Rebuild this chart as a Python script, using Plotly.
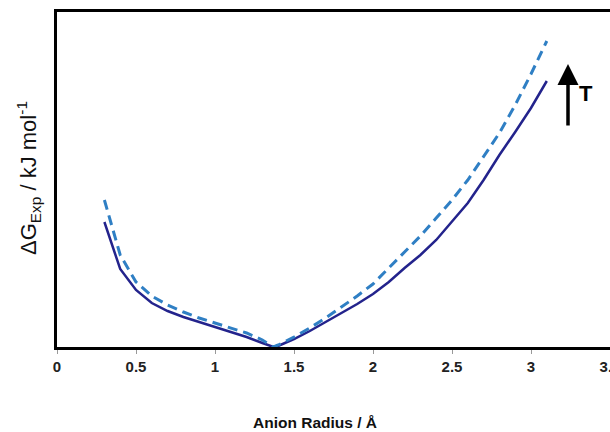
import plotly.graph_objects as go

# Anion radius (Å)
radius = [0.3, 0.4, 0.5, 0.6, 0.7, 0.8, 0.9, 1.0, 1.1, 1.2, 1.3, 1.37, 1.4, 1.5, 1.6,
          1.7, 1.8, 1.9, 2.0, 2.1, 2.2, 2.3, 2.4, 2.5, 2.6, 2.7, 2.8, 2.9, 3.0, 3.1]
# ΔG (arbitrary units) - lower temperature (solid)
dg_low = [12.5, 7.8, 5.7, 4.4, 3.6, 3.0, 2.5, 2.0, 1.5, 1.0, 0.4, 0.0, 0.1, 0.8, 1.6,
          2.5, 3.4, 4.3, 5.3, 6.5, 7.9, 9.2, 10.7, 12.5, 14.4, 16.7, 19.2, 21.5, 23.9, 26.6]
# ΔG (arbitrary units) - higher temperature (dashed)
dg_high = [14.7, 9.2, 6.5, 5.1, 4.2, 3.5, 2.9, 2.4, 1.9, 1.4, 0.7, 0.0, 0.2, 1.0, 1.9,
           2.9, 4.0, 5.1, 6.3, 7.9, 9.5, 11.1, 12.9, 14.7, 16.7, 19.0, 21.4, 24.2, 27.3, 30.6]
x_ticks = [0, 0.5, 1, 1.5, 2, 2.5, 3, 3.5]
x_tick_text = ["0", "0.5", "1", "1.5", "2", "2.5", "3", "3.5"]

fig = go.Figure()
fig.add_trace(go.Scatter(x=radius, y=dg_low, mode="lines",
                         line=dict(color="#23238c", width=2.5), showlegend=False))
fig.add_trace(go.Scatter(x=radius, y=dg_high, mode="lines",
                         line=dict(color="#2f7fc4", width=3, dash="10px,6px"), showlegend=False))

fig.update_layout(
    width=610, height=432,
    margin=dict(l=57, r=0, t=12, b=85),
    paper_bgcolor="white", plot_bgcolor="white",
    font=dict(family="Liberation Sans, Arial, sans-serif", color="#111"),
    xaxis=dict(range=[0, 3.5], tickvals=x_ticks, ticktext=x_tick_text,
               showgrid=False, zeroline=False, showline=True, linecolor="black",
               linewidth=3, mirror=True, ticks="outside", ticklen=4, tickwidth=1,
               tickcolor="#999", ticklabeloverflow="allow", automargin=False,
               tickfont=dict(size=15, weight="bold", color="#222")),
    yaxis=dict(range=[0, 33.5], showgrid=False, zeroline=False, showline=True,
               linecolor="black", linewidth=3, mirror=False, showticklabels=False,
               ticks="", automargin=False),
    annotations=[
        dict(text="<b>Anion Radius / Å</b>", xref="paper", yref="paper",
             x=(315 - 57) / 553, y=-(422 - 347) / 335, showarrow=False,
             font=dict(size=15.5, color="#111"), xanchor="center", yanchor="middle"),
        dict(text="ΔG<sub>Exp</sub> / kJ mol<sup>-1</sup>", xref="paper", yref="paper",
             x=-(57 - 28) / 553, y=(347 - 178) / 335, showarrow=False, textangle=-90,
             font=dict(size=22, color="#111"), xanchor="center", yanchor="middle"),
        dict(text="", xref="paper", yref="paper",
             x=(568 - 57) / 553, y=(347 - 64) / 335,
             ax=0, ay=63, axref="pixel", ayref="pixel",
             showarrow=True, arrowhead=2, arrowsize=1.2, arrowwidth=3.5, arrowcolor="black"),
        dict(text="<b>T</b>", xref="paper", yref="paper",
             x=(586 - 57) / 553, y=(347 - 94) / 335, showarrow=False,
             font=dict(size=22, color="black"), xanchor="center", yanchor="middle"),
    ],
)

fig.write_html("out.html", config={"displayModeBar": False},
               post_script="document.body.style.margin='0';document.body.style.overflow='hidden';")
